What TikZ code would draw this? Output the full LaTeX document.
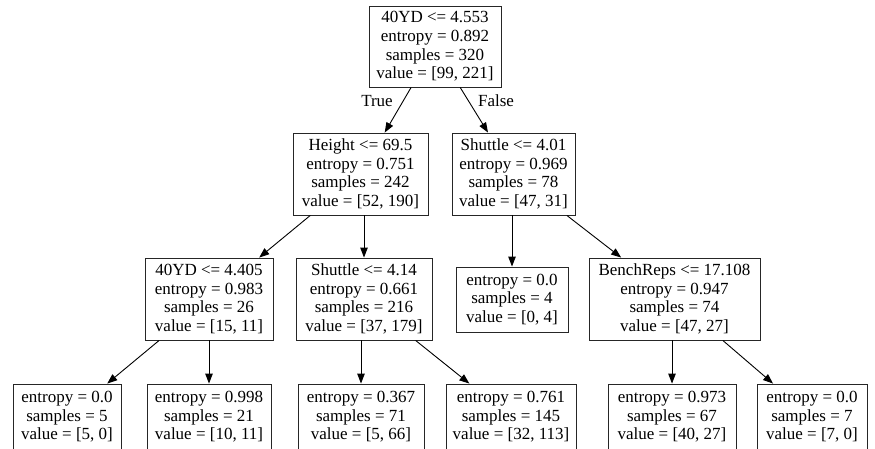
\documentclass[tikz,border=0pt]{standalone}
\usepackage{fontspec}
\setmainfont{Liberation Serif}
\usetikzlibrary{arrows.meta}
\begin{document}
\begin{tikzpicture}[x=1pt,y=-1pt,
  box/.style={draw=black!85,line width=0.9pt,rectangle,inner sep=0pt,align=center,
    font=\fontsize{17}{18.6}\selectfont},
  lbl/.style={inner sep=0pt,font=\fontsize{17}{18.6}\selectfont},
  edge/.style={draw=black,line width=0.9pt,-{Triangle[length=10pt,width=7.5pt]}}]
\useasboundingbox (0,0) rectangle (875,449);
\clip (0,0) rectangle (875,449);
\fill[white] (0,0) rectangle (875,449);
% level 1
\node[box,minimum width=132pt,minimum height=81pt] (root) at (435,46.5)
  {40YD <= 4.553\\entropy = 0.892\\samples = 320\\value = [99, 221]};
% level 2
\node[box,minimum width=135pt,minimum height=82pt] (height) at (360.5,174)
  {Height <= 69.5\\entropy = 0.751\\samples = 242\\value = [52, 190]};
\node[box,minimum width=123pt,minimum height=82pt] (shut) at (513.5,174)
  {Shuttle <= 4.01\\entropy = 0.969\\samples = 78\\value = [47, 31]};
% level 3
\node[box,minimum width=128pt,minimum height=82pt] (yd) at (209,299)
  {40YD <= 4.405\\entropy = 0.983\\samples = 26\\value = [15, 11]};
\node[box,minimum width=136pt,minimum height=82pt] (sfour) at (364,299)
  {Shuttle <= 4.14\\entropy = 0.661\\samples = 216\\value = [37, 179]};
\node[box,minimum width=112pt,minimum height=65pt] (lfz) at (512,299.5)
  {entropy = 0.0\\samples = 4\\value = [0, 4]};
\node[box,minimum width=171pt,minimum height=82pt] (bench) at (674.5,299)
  {BenchReps <= 17.108\\entropy = 0.947\\samples = 74\\value = [47, 27]};
% level 4
\node[box,minimum width=108pt,minimum height=66pt] (la) at (67,417)
  {entropy = 0.0\\samples = 5\\value = [5, 0]};
\node[box,minimum width=124pt,minimum height=66pt] (lb) at (209,417)
  {entropy = 0.998\\samples = 21\\value = [10, 11]};
\node[box,minimum width=126pt,minimum height=66pt] (lc) at (361,417)
  {entropy = 0.367\\samples = 71\\value = [5, 66]};
\node[box,minimum width=130pt,minimum height=66pt] (ld) at (511,417)
  {entropy = 0.761\\samples = 145\\value = [32, 113]};
\node[box,minimum width=128pt,minimum height=66pt] (le) at (672,417)
  {entropy = 0.973\\samples = 67\\value = [40, 27]};
\node[box,minimum width=110pt,minimum height=66pt] (lf) at (812,417)
  {entropy = 0.0\\samples = 7\\value = [7, 0]};
% edges
\draw[edge] (root) -- (height);
\draw[edge] (root) -- (shut);
\node[lbl] (tlab) at (377,101) {True};
\node[lbl] (flab) at (496,101) {False};
\draw[edge] (height) -- (yd);
\draw[edge] (height.south -| sfour.north) -- (sfour.north);
\draw[edge] (shut.south -| lfz.north) -- (lfz.north);
\draw[edge] (shut) -- (bench);
\draw[edge] (yd) -- (la);
\draw[edge] (yd.south -| lb.north) -- (lb.north);
\draw[edge] (sfour.south -| lc.north) -- (lc.north);
\draw[edge] (sfour) -- (ld);
\draw[edge] (bench.south -| le.north) -- (le.north);
\draw[edge] (bench) -- (lf);
\end{tikzpicture}
\end{document}
